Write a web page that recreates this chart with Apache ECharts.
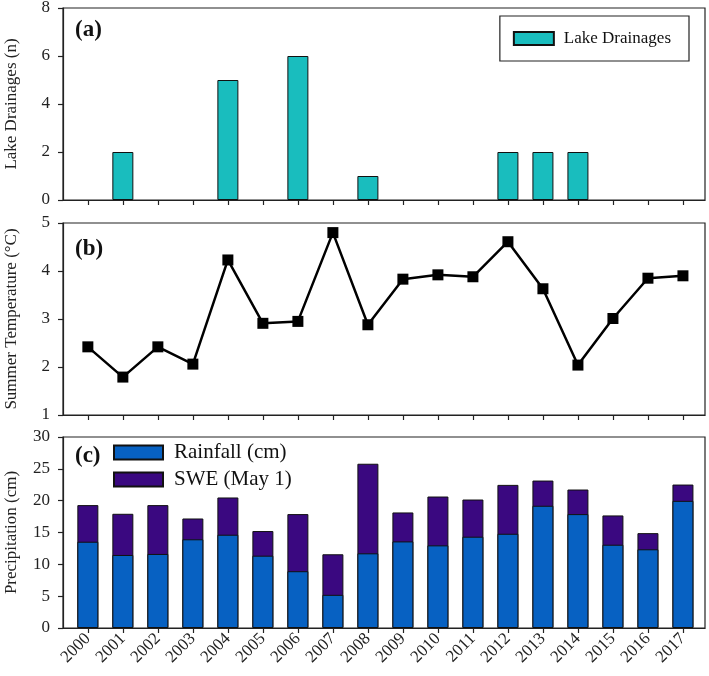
<!DOCTYPE html>
<html>
<head>
<meta charset="utf-8">
<script src="https://cdn.jsdelivr.net/npm/echarts@6/dist/echarts.min.js"></script>
<style>
  html, body { margin: 0; padding: 0; background: #fff; }
  #chart { width: 709px; height: 676px; }
</style>
</head>
<body>
<div id="chart"></div>
<script>
// data
var years = [2000, 2001, 2002, 2003, 2004, 2005, 2006, 2007, 2008,
  2009, 2010, 2011, 2012, 2013, 2014, 2015, 2016, 2017];
var drainages = [0, 2, 0, 0, 5, 0, 6, 0, 1, 0, 0, 0, 2, 2, 2, 0, 0, 0];
var summerTemp = [2.42, 1.79, 2.42, 2.06, 4.23, 2.91, 2.95, 4.80, 2.88,
  3.83, 3.92, 3.88, 4.61, 3.63, 2.04, 3.01, 3.85, 3.90];
var rainfall = [13.55, 11.47, 11.63, 13.93, 14.65, 11.36, 8.92, 5.21, 11.73,
  13.6, 12.98, 14.34, 14.8, 19.2, 17.89, 13.08, 12.36, 19.97];
var swe = [5.75, 6.47, 7.67, 3.27, 5.85, 3.87, 8.97, 6.37, 14.07,
  4.55, 7.67, 5.84, 7.68, 3.96, 3.86, 4.6, 2.54, 2.56];

var serif = "'Liberation Serif', 'Times New Roman', serif";
var ink = "#222";

function pairs(vals) {
  return years.map(function (y, i) { return [y, vals[i]]; });
}
// years with no drainage get no bar at all
function nonZero(vals) {
  return pairs(vals).filter(function (p) { return p[1] > 0; });
}
// x axis is a value axis, so stacking is done by laying the rain bar
// over a bar of the full height (rain + swe)
var totals = rainfall.map(function (r, i) { return r + swe[i]; });

function xAxisFor(idx, showLabels) {
  return {
    type: "value", gridIndex: idx, min: 1999.29, max: 2017.63,
    splitLine: { show: false },
    axisLine: { show: true, lineStyle: { color: ink, width: 1.2 } },
    axisTick: { show: true, customValues: years, length: 5, lineStyle: { color: ink, width: 1.2 } },
    axisLabel: {
      show: showLabels, customValues: years, rotate: 45, margin: 8,
      fontFamily: serif, fontSize: 17, color: ink,
      formatter: function (v) { return String(v); }
    }
  };
}
function yAxisFor(idx, min, max, interval, name) {
  return {
    type: "value", gridIndex: idx, min: min, max: max, interval: interval,
    name: name, nameLocation: "middle", nameGap: 43, nameRotate: 90,
    nameTextStyle: { fontFamily: serif, fontSize: 17, color: ink },
    splitLine: { show: false },
    axisLine: { show: true, lineStyle: { color: ink, width: 1.2 } },
    axisTick: { show: true, length: 5, lineStyle: { color: ink, width: 1.2 } },
    axisLabel: { fontFamily: serif, fontSize: 17, color: ink, margin: 13 }
  };
}
function gridAt(top, height) {
  return {
    left: 63, right: 4, top: top, height: height, outerBoundsMode: "none",
    show: true, borderColor: ink, borderWidth: 1.2, backgroundColor: "transparent"
  };
}

var chart = echarts.init(document.getElementById("chart"), null, { renderer: "canvas" });
var option = {
  backgroundColor: "#fff",
  animation: false,
  title: [
    { text: "(a)", left: 70, top: 14, textStyle: { fontFamily: serif, fontSize: 23, fontWeight: "bold", color: "#111" } },
    { text: "(b)", left: 70, top: 233, textStyle: { fontFamily: serif, fontSize: 23, fontWeight: "bold", color: "#111" } },
    { text: "(c)", left: 70, top: 440, textStyle: { fontFamily: serif, fontSize: 23, fontWeight: "bold", color: "#111" } }
  ],
  grid: [gridAt(8, 192), gridAt(223, 192), gridAt(437, 191)],
  xAxis: [xAxisFor(0, false), xAxisFor(1, false), xAxisFor(2, true)],
  yAxis: [
    yAxisFor(0, 0, 8, 2, "Lake Drainages (n)"),
    yAxisFor(1, 1, 5, 1, "Summer Temperature (°C)"),
    yAxisFor(2, 0, 30, 5, "Precipitation (cm)")
  ],
  legend: [
    {
      data: ["Lake Drainages"], top: 16, right: 20,
      orient: "vertical", itemWidth: 40, itemHeight: 13, icon: "rect",
      borderColor: ink, borderWidth: 1.2, padding: [14, 18, 14, 13],
      textStyle: { fontFamily: serif, fontSize: 17, color: "#111", padding: [0, 0, 0, 5] }
    },
    {
      data: ["Rainfall (cm)", "SWE (May 1)"], top: 442, left: 113, padding: 0,
      orient: "vertical", itemWidth: 49, itemHeight: 14, itemGap: 6, icon: "rect",
      textStyle: { fontFamily: serif, fontSize: 21, color: "#111", padding: [0, 0, 0, 6] }
    }
  ],
  series: [
    {
      name: "Lake Drainages", type: "bar", xAxisIndex: 0, yAxisIndex: 0,
      barWidth: 21, data: nonZero(drainages),
      itemStyle: { color: "#19BDBE", borderColor: "#111", borderWidth: 1 }
    },
    {
      name: "Summer Temperature", type: "line", xAxisIndex: 1, yAxisIndex: 1,
      data: pairs(summerTemp), symbol: "rect", symbolSize: 11,
      lineStyle: { color: "#000", width: 2.5 }, itemStyle: { color: "#000" }
    },
    {
      name: "SWE (May 1)", type: "bar", xAxisIndex: 2, yAxisIndex: 2,
      barWidth: 21, barGap: "-100%", data: pairs(totals),
      itemStyle: { color: "#3A0880", borderColor: "#111", borderWidth: 1 }
    },
    {
      name: "Rainfall (cm)", type: "bar", xAxisIndex: 2, yAxisIndex: 2,
      barWidth: 21, barGap: "-100%", data: pairs(rainfall),
      itemStyle: { color: "#0761C2", borderColor: "#111", borderWidth: 1 }
    }
  ]
};
chart.setOption(option);
</script>
</body>
</html>
